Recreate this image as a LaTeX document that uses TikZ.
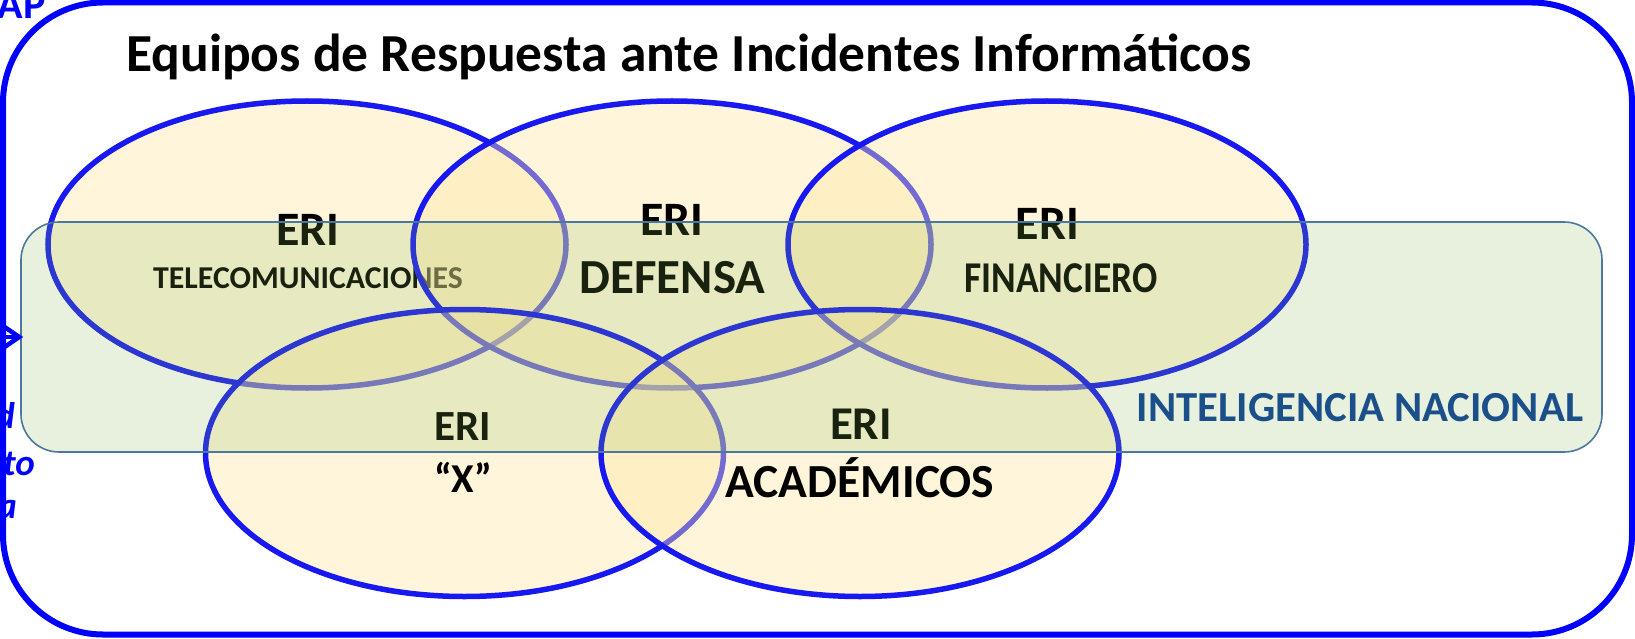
\documentclass[tikz,border=0pt]{standalone}
\usepackage{fontspec}
\setmainfont{Carlito}
\usetikzlibrary{shapes.geometric,arrows.meta,calc}
\definecolor{outerblue}{RGB}{0,0,255}
\definecolor{ellblue}{RGB}{24,24,240}
\definecolor{ellfill}{RGB}{255,232,165}
\definecolor{greenfill}{RGB}{132,184,79}
\definecolor{greenline}{RGB}{74,120,160}
\definecolor{intblue}{RGB}{26,79,138}
\newcommand\fsz[1]{\fontsize{#1}{#1}\selectfont}
\tikzset{
  eri/.style={ellipse, minimum width=518pt, minimum height=287pt, inner sep=0pt,
    draw=ellblue, line width=5.5pt, fill=ellfill, fill opacity=0.4},
  lbl/.style={anchor=base, inner sep=0pt, text=black, font=\bfseries},
  cut/.style={anchor=base east, inner sep=0pt, text=outerblue},
}
\begin{document}
\begin{tikzpicture}[x=1pt,y=-1pt]
\clip (0,0) rectangle (1635,639);
\useasboundingbox (0,0) rectangle (1635,639);
\fill[white] (0,0) rectangle (1635,639);
% title
\node[lbl, font=\bfseries\fsz{53.5}] (title) at (689,72) {Equipos de Respuesta ante Incidentes Informáticos};
% ellipses with labels
\node[eri] (e1) at (307,244.5) {};
\node[lbl, font=\bfseries\fsz{48}] (e1a) at (308,245) {ERI};
\node[lbl, font=\bfseries\fsz{31.8}] (e1b) at (308,288) {TELECOMUNICACIONES};
\node[eri] (e2) at (672,244.5) {};
\node[lbl, font=\bfseries\fsz{48}] (e2a) at (672,235) {ERI};
\node[lbl, font=\bfseries\fsz{49}] (e2b) at (672.5,293) {DEFENSA};
\node[eri] (e3) at (1047,244.5) {};
\node[lbl, font=\bfseries\fsz{48}] (e3a) at (1047.5,240) {ERI};
\node[lbl, font=\bfseries\fsz{44}, xscale=0.85, transform shape] (e3b) at (1061,292) {FINANCIERO};
\node[eri] (e4) at (464.5,453) {};
\node[lbl, font=\bfseries\fsz{43}] (e4a) at (463,440) {ERI};
\node[lbl, font=\bfseries\fsz{41}] (e4b) at (463,492) {“X”};
\node[eri] (e5) at (860,453) {};
\node[lbl, font=\bfseries\fsz{47}] (e5a) at (861,439) {ERI};
\node[lbl, font=\bfseries\fsz{47.5}] (e5b) at (860,497) {ACADÉMICOS};
% green band on top
\node[draw=greenline, line width=1.6pt, fill=greenfill, fill opacity=0.19, rounded corners=38pt,
      minimum width=1581pt, minimum height=230pt, inner sep=0pt] (band) at (811.5,337) {};
\node[lbl, text=intblue, font=\bfseries\fsz{42.8}] (intel) at (1360,421) {INTELIGENCIA NACIONAL};
% outer frame
\node[draw=outerblue, line width=6pt, rounded corners=100pt, minimum width=1629pt,
      minimum height=632pt, inner sep=0pt] (frame) at (817.5,318.5) {};
% cut-off texts at the left
\node[cut, font=\bfseries\fsz{42}] (ap) at (46,19) {AP};
\node[cut, font=\bfseries\itshape\fsz{37}] (t1) at (15,428) {d};
\node[cut, font=\bfseries\itshape\fsz{37}] (t2) at (35,475) {ito};
\node[cut, font=\bfseries\itshape\fsz{37}] (t3) at (17,518) {a};
\coordinate (arrs) at (-10,337);
\draw[outerblue, line width=4.5pt] (arrs) -- ($(band.west)+(-3,0)$);
\draw[outerblue, line width=4.5pt, line join=miter, miter limit=10]
  ($(band.west)+(-20,-13)$) -- ($(band.west)+(-1,0)$) -- ($(band.west)+(-20,13)$);
\end{tikzpicture}
\end{document}
